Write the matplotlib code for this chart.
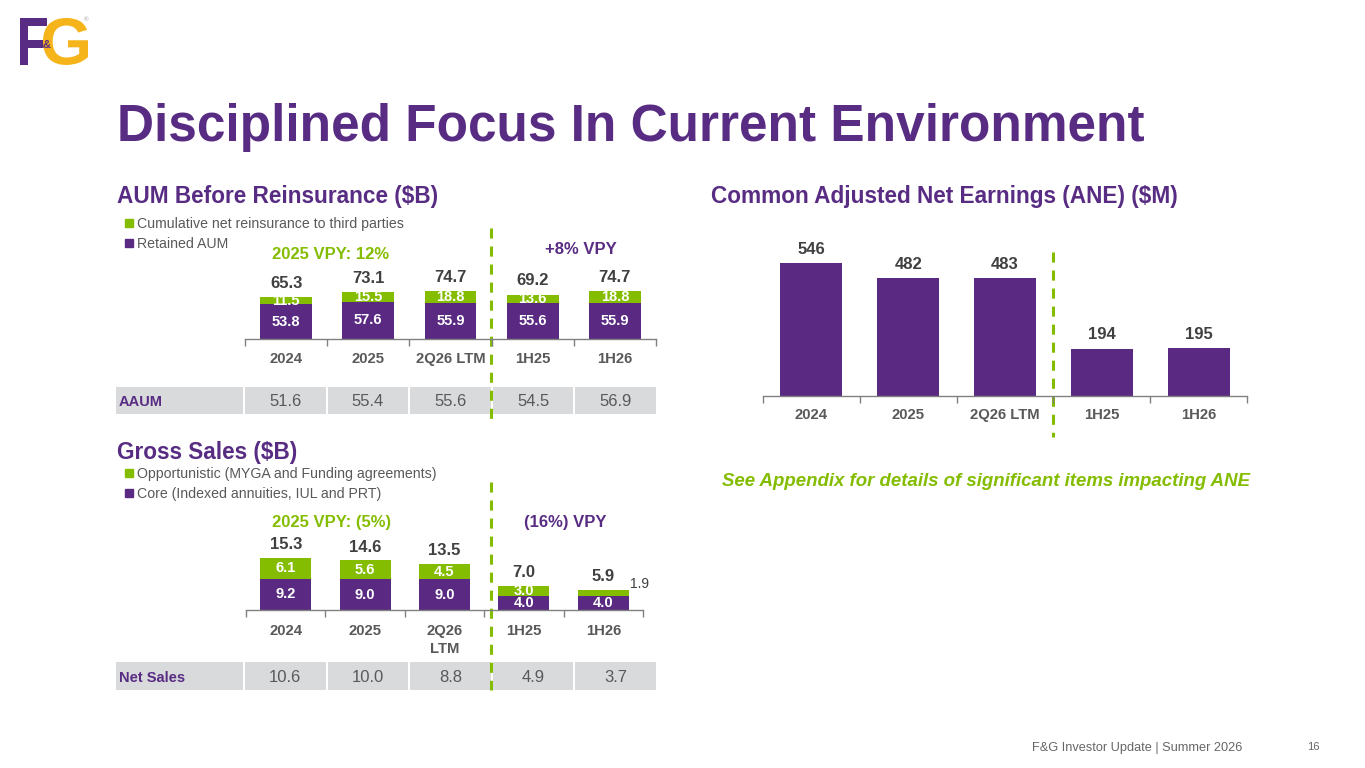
import numpy as np
import matplotlib
matplotlib.use("Agg")
import matplotlib.pyplot as plt
from matplotlib.patches import Patch, Rectangle, PathPatch
from matplotlib.textpath import TextPath
from matplotlib.font_manager import FontProperties
from matplotlib.transforms import Affine2D

plt.rcParams["font.family"] = ["Liberation Sans", "DejaVu Sans"]

# Dados
cats = ["2024", "2025", "2Q26 LTM", "1H25", "1H26"]
cats_gs = ["2024", "2025", "2Q26\nLTM", "1H25", "1H26"]

aum_retained = [53.8, 57.6, 55.9, 55.6, 55.9]
aum_reins = [11.5, 15.5, 18.8, 13.6, 18.8]
aum_total = [65.3, 73.1, 74.7, 69.2, 74.7]
aaum = [51.6, 55.4, 55.6, 54.5, 56.9]

gs_core = [9.2, 9.0, 9.0, 4.0, 4.0]
gs_opp = [6.1, 5.6, 4.5, 3.0, 1.9]
gs_total = [15.3, 14.6, 13.5, 7.0, 5.9]
net_sales = [10.6, 10.0, 8.8, 4.9, 3.7]

ane = [546, 482, 483, 194, 195]

# Cores
PURPLE = "#582C83"
BAR_P = "#5A2A82"
GREEN = "#84BD00"
GOLD = "#F5B41A"
GRAY = "#595959"
DARK = "#404040"
AXIS = "#808080"
CELL = "#D9DADC"

W, H = 1365, 768
fig = plt.figure(figsize=(W / 100, H / 100), dpi=100)
fig.patch.set_facecolor("white")

# eixo de fundo em pixels (y para baixo)
bg = fig.add_axes([0, 0, 1, 1])
bg.set_xlim(0, W)
bg.set_ylim(H, 0)
bg.axis("off")


def add_ax(l, t, r, b):
    ax = fig.add_axes([l / W, 1 - b / H, (r - l) / W, (b - t) / H])
    ax.patch.set_alpha(0)
    return ax


def style(ax, labels, pad):
    n = len(labels)
    ax.set_xlim(-0.5, n - 0.5)
    for s in ["top", "right", "left"]:
        ax.spines[s].set_visible(False)
    ax.spines["bottom"].set_color(AXIS)
    ax.spines["bottom"].set_linewidth(1.0)
    ax.set_yticks([])
    ax.set_xticks(range(n))
    ax.set_xticklabels(labels, fontsize=10.7, fontweight="bold", color=GRAY)
    ax.set_xticks(np.arange(-0.5, n), minor=True)
    ax.tick_params(axis="x", which="major", length=0, pad=pad)
    ax.tick_params(axis="x", which="minor", length=5, color=AXIS, width=1.0)


def label(x, y, s, size, color, weight="bold", ha="left", style_="normal"):
    bg.text(x, y, s, fontsize=size, color=color, fontweight=weight,
            ha=ha, va="baseline", fontstyle=style_)


def table(y0, y1, name, values):
    cw = 82.6
    mid = (y0 + y1) / 2
    bg.add_patch(Rectangle((116, y0), 127, y1 - y0, color=CELL, lw=0))
    bg.text(119, mid + 5.5, name, fontsize=10.5, fontweight="bold",
            color=PURPLE, va="baseline")
    for i, v in enumerate(values):
        x0 = 245 + i * cw
        bg.add_patch(Rectangle((x0, y0), cw - 2, y1 - y0, color=CELL, lw=0))
        bg.text(x0 + (cw - 2) / 2, mid + 6, "{:.1f}".format(v), fontsize=12,
                color=GRAY, ha="center", va="baseline")


def logo_letter(ch, box, color):
    tp = TextPath((0, 0), ch, size=1,
                  prop=FontProperties(family="Liberation Sans", weight="bold"))
    ext = tp.get_extents()
    x0, y0, x1, y1 = box
    tr = (Affine2D().translate(-ext.x0, -ext.y0)
          .scale((x1 - x0) / ext.width, -(y1 - y0) / ext.height)
          .translate(x0, y1))
    bg.add_patch(PathPatch(tr.transform_path(tp), color=color, lw=0))


# Logo
logo_letter("F", (20, 18, 47, 65), PURPLE)
logo_letter("G", (43, 18, 88, 65), GOLD)
bg.text(46.5, 45, "&", fontsize=8, fontweight="bold", color=PURPLE,
        ha="center", va="center")
bg.text(86, 20, "®", fontsize=4.5, color="#999999", ha="center", va="center")

# Titulo
label(117, 141, "Disciplined Focus In Current Environment", 37, PURPLE)

# ================= AUM =================
label(117, 203, "AUM Before Reinsurance ($B)", 16.3, PURPLE)
ax1 = add_ax(245, 200, 656, 339)
style(ax1, cats, 9.2)
ax1.set_ylim(0, 139 / 0.643)
x = np.arange(len(cats))
b1 = ax1.bar(x, aum_retained, 0.63, color=BAR_P, zorder=2)
b2 = ax1.bar(x, aum_reins, 0.63, bottom=aum_retained, color=GREEN, zorder=2)
ax1.bar_label(b1, labels=["{:.1f}".format(v) for v in aum_retained],
              label_type="center", color="white", fontsize=10.5, fontweight="bold")
ax1.bar_label(b2, labels=["{:.1f}".format(v) for v in aum_reins],
              label_type="center", color="white", fontsize=10.5, fontweight="bold")
ax1.bar_label(b2, labels=["{:.1f}".format(v) for v in aum_total], padding=4.5,
              color=DARK, fontsize=12, fontweight="bold")
fig.legend([Patch(color=GREEN), Patch(color=BAR_P)],
           ["Cumulative net reinsurance to third parties", "Retained AUM"],
           loc="upper left", bbox_to_anchor=(125 / W, 1 - 217 / H),
           frameon=False, fontsize=10.2, handlelength=0.55, handleheight=0.55,
           handletextpad=0.3, labelspacing=0.43, borderpad=0, borderaxespad=0,
           labelcolor=GRAY)
label(331, 259, "2025 VPY: 12%", 12, GREEN, ha="center")
label(581, 254, "+8% VPY", 12, PURPLE, ha="center")
table(387, 414, "AAUM", aaum)

# ================= Gross Sales =================
label(117, 459, "Gross Sales ($B)", 16.3, PURPLE)
ax2 = add_ax(246, 500, 643, 610)
style(ax2, cats_gs, 9.9)
for t in ax2.get_xticklabels():
    t.set_linespacing(1.4)
ax2.set_ylim(0, 110 / 3.4)
g1 = ax2.bar(x, gs_core, 0.64, color=BAR_P, zorder=2)
g2 = ax2.bar(x, gs_opp, 0.64, bottom=gs_core, color=GREEN, zorder=2)
ax2.bar_label(g1, labels=["{:.1f}".format(v) for v in gs_core],
              label_type="center", color="white", fontsize=10.5, fontweight="bold")
ax2.bar_label(g2, labels=["{:.1f}".format(v) for v in gs_opp[:-1]] + [""],
              label_type="center", color="white", fontsize=10.5, fontweight="bold")
ax2.bar_label(g2, labels=["{:.1f}".format(v) for v in gs_total], padding=4.2,
              color=DARK, fontsize=12, fontweight="bold")
ax2.annotate("{:.1f}".format(gs_opp[-1]), xy=(4 + 0.32, gs_total[-1]),
             xytext=(1.0, 4.5), textcoords="offset points", ha="left",
             va="center", fontsize=10, color=DARK)
fig.legend([Patch(color=GREEN), Patch(color=BAR_P)],
           ["Opportunistic (MYGA and Funding agreements)",
            "Core (Indexed annuities, IUL and PRT)"],
           loc="upper left", bbox_to_anchor=(125 / W, 1 - 467 / H),
           frameon=False, fontsize=10.2, handlelength=0.55, handleheight=0.55,
           handletextpad=0.3, labelspacing=0.43, borderpad=0, borderaxespad=0,
           labelcolor=GRAY)
label(332, 527, "2025 VPY: (5%)", 12, GREEN, ha="center")
label(565, 527, "(16%) VPY", 12, PURPLE, ha="center")
table(662, 690, "Net Sales", net_sales)

# ================= ANE =================
label(711, 203, "Common Adjusted Net Earnings (ANE) ($M)", 16.3, PURPLE)
ax3 = add_ax(763, 240, 1247, 396)
style(ax3, cats, 8.9)
ax3.set_ylim(0, 156 / 0.244)
a1 = ax3.bar(x, ane, 0.64, color=BAR_P, zorder=2)
ax3.bar_label(a1, labels=[str(v) for v in ane], padding=4.5, color=DARK,
              fontsize=12, fontweight="bold")
label(722, 486, "See Appendix for details of significant items impacting ANE",
      13.4, GREEN, style_="italic")

# linhas tracejadas
for xs, y0, y1 in [(491, 228, 420), (491, 482, 690), (1053, 252, 437)]:
    bg.plot([xs, xs], [y0, y1], color=GREEN, lw=2.2, ls=(0, (3.3, 2.6)), zorder=5)

# Rodape
label(1032, 751, "F&G Investor Update | Summer 2026", 9.2, "#666666", weight="normal")
label(1307, 750, "16", 8, "#666666", weight="normal")

fig.savefig("out.png", dpi=100, facecolor="white")
